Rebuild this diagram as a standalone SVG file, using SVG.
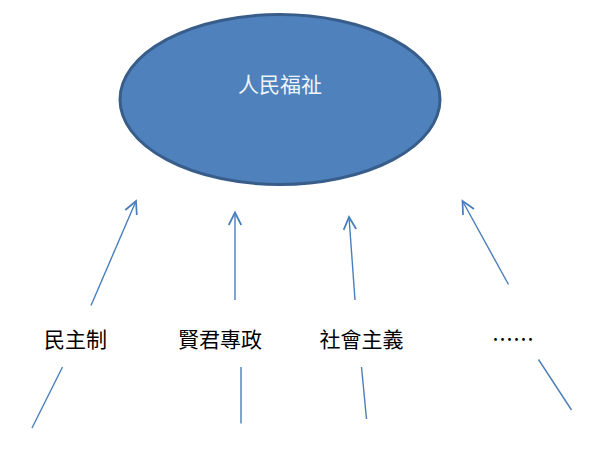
<svg xmlns="http://www.w3.org/2000/svg" width="592" height="449" viewBox="0 0 592 449">
<style>
.lbl{font-family:"Liberation Sans","Noto Sans CJK TC",sans-serif;font-size:21px;fill:#000;text-anchor:middle}
.conn line{stroke:#4a7ebb;stroke-width:1.4;fill:none}
</style>
<defs>
<marker id="arr" markerUnits="userSpaceOnUse" markerWidth="20" markerHeight="20" viewBox="-12 -8 16 16" refX="0" refY="0" orient="auto" overflow="visible">
<path d="M-10,-5 L0,0 L-10,5" fill="none" stroke="#4a7ebb" stroke-width="1.4"/>
</marker>
</defs>
<rect width="592" height="449" fill="#fff"/>
<g id="welfare">
<ellipse cx="280" cy="99.5" rx="160" ry="85" fill="#4f81bd" stroke="#385d8a" stroke-width="3"/>
<text x="280" y="92" class="lbl" style="fill:#eef4fb">人民福祉</text>
</g>
<g id="democracy"><text x="75.5" y="347" class="lbl">民主制</text></g>
<g id="benevolent"><text x="220" y="347" class="lbl">賢君專政</text></g>
<g id="socialism"><text x="361.5" y="347" class="lbl">社會主義</text></g>
<g id="others"><text x="513" y="347" class="lbl" style="font-family:'Noto Sans CJK TC',sans-serif">……</text></g>
<g class="conn" id="connectors">
<line x1="91" y1="305.5" x2="136" y2="201" marker-end="url(#arr)"/>
<line x1="235" y1="300" x2="235" y2="212.5" marker-end="url(#arr)"/>
<line x1="355" y1="300" x2="349" y2="217" marker-end="url(#arr)"/>
<line x1="508.5" y1="284.5" x2="462.5" y2="201" marker-end="url(#arr)"/>
<line x1="62.5" y1="367" x2="32" y2="428"/>
<line x1="241" y1="367" x2="241" y2="423.5"/>
<line x1="361.5" y1="367" x2="366.5" y2="419"/>
<line x1="538.5" y1="359.5" x2="571.5" y2="410"/>
</g>
</svg>
